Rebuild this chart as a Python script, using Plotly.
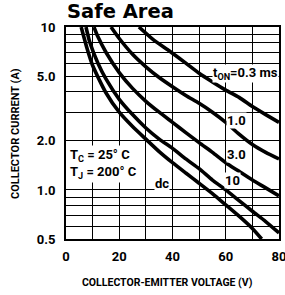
import numpy as np
import plotly.graph_objects as go

# ---- data ----
v_03 = [27.4, 33, 39, 45, 50, 55, 60, 65, 70, 75, 80]
i_03 = [10, 8.3, 7.1, 6.0, 5.2, 4.6, 4.1, 3.7, 3.25, 2.9, 2.6]

v_1 = [16.9, 20, 25, 30, 35, 40, 45, 50, 55, 60, 65, 70, 75, 80]
i_1 = [10, 8.5, 6.8, 5.7, 4.9, 4.3, 3.8, 3.4, 3.0, 2.6, 2.2, 1.9, 1.7, 1.55]

v_3 = [10.5, 12, 15, 20, 25, 30, 35, 40, 45, 50, 55, 60, 65, 70, 75, 80]
i_3 = [10, 8.7, 7.0, 5.25, 4.2, 3.5, 3.0, 2.6, 2.25, 1.95, 1.7, 1.47, 1.3, 1.15, 1.03, 0.92]

v_10 = [7.5, 9, 12, 15, 20, 25, 30, 35, 40, 45, 50, 55, 60, 65, 70, 75, 80]
i_10 = [10, 8.0, 6.0, 4.8, 3.6, 2.9, 2.4, 2.05, 1.8, 1.55, 1.35, 1.15, 1.0, 0.86, 0.74, 0.64, 0.545]

v_dc = [5.7, 8, 10, 15, 20, 25, 30, 35, 40, 45, 50, 55, 60, 65, 70, 73.5]
i_dc = [10, 7.3, 5.8, 3.95, 3.0, 2.45, 2.05, 1.72, 1.47, 1.27, 1.1, 0.95, 0.81, 0.69, 0.58, 0.5]

x_ticks = [0, 20, 40, 60, 80]
x_ticktext = ["0", "20", "40", "60", "80"]
x_grid = [10, 30, 50, 70]
y_ticks = [0.5, 1, 2, 5, 10]
y_ticktext = ["0.5", "1.0", "2.0", "5.0", "10"]
y_grid = [0.6, 0.7, 0.8, 0.9, 3, 4, 6, 7, 8, 9]

series = [(v_03, i_03), (v_1, i_1), (v_3, i_3), (v_10, i_10), (v_dc, i_dc)]

NARROW = "Roboto, Liberation Sans, sans-serif"
TICKF = dict(family="Roboto, Liberation Sans, sans-serif", size=13, color="black", weight="bold")

fig = go.Figure()
for vx, iy in series:
    fig.add_trace(go.Scatter(x=vx, y=iy, mode="lines",
                             line=dict(color="black", width=3.6, shape="spline", smoothing=0.6),
                             showlegend=False, hoverinfo="skip"))

fig.update_layout(
    width=285, height=295,
    margin=dict(l=66, r=6, t=27, b=56, autoexpand=False),
    paper_bgcolor="white", plot_bgcolor="white",
    title=dict(text="<b>Safe Area</b>", xref="container", yref="container",
               x=67/285, xanchor="left", y=1 - 11/295, yanchor="middle",
               pad=dict(l=0, r=0, t=0, b=0),
               font=dict(family="DejaVu Sans, sans-serif", size=19.5, color="black")),
)
GRID = dict(showgrid=True, gridcolor="black", gridwidth=1.4)
fig.update_xaxes(range=[0, 80], tickmode="array", tickvals=x_ticks, ticktext=x_ticktext,
                 automargin=False, ticklabelstandoff=4, ticklabeloverflow="allow",
                 minor=dict(tickmode="array", tickvals=x_grid, **GRID), **GRID,
                 showline=True, linecolor="black", linewidth=2, mirror=True,
                 ticks="", tickfont=TICKF, zeroline=False)
fig.update_yaxes(type="log", range=[np.log10(0.5), 1], tickmode="array",
                 tickvals=y_ticks, ticktext=y_ticktext,
                 automargin=False, ticklabelstandoff=6, ticklabeloverflow="allow",
                 minor=dict(tickmode="array", tickvals=y_grid, **GRID), **GRID,
                 showline=True, linecolor="black", linewidth=2, mirror=True,
                 ticks="", tickfont=TICKF, zeroline=False)

# axis titles
fig.add_annotation(text="COLLECTOR-EMITTER VOLTAGE (V)", xref="paper", yref="paper",
                   x=(167 - 66) / 213, y=0, yshift=-43, xanchor="center", yanchor="middle",
                   showarrow=False, font=dict(family=NARROW, size=10.5, color="black", weight="bold"))
fig.add_annotation(text="COLLECTOR CURRENT (A)", xref="paper", yref="paper",
                   x=0, xshift=15 - 66, y=(239 - 134) / 212, xanchor="center", yanchor="middle",
                   textangle=-90, showarrow=False,
                   font=dict(family=NARROW, size=11, color="black", weight="bold"))

LBL = dict(family=NARROW, size=13, color="black", weight="bold")
labels = [
    ("t<sub>ON</sub>=0.3 ms", 67.5, 5.2),
    ("1.0", 63.9, 2.65),
    ("3.0", 63.9, 1.66),
    ("10", 62.4, 1.15),
    ("dc", 36.1, 1.09),
]
for txt, xv, yv in labels:
    fig.add_annotation(text=txt, x=xv, y=np.log10(yv), showarrow=False,
                       bgcolor="white", font=LBL, borderpad=0)

fig.add_annotation(text="T<sub>C</sub> = 25° C<br>T<sub>J</sub> = 200° C",
                   x=0.6, y=np.log10(1.45), xanchor="left", yanchor="middle", align="left",
                   showarrow=False, bgcolor="white", borderpad=1,
                   font=dict(family=NARROW, size=13, color="black", weight="bold"))

fig.write_html("out.html", config={"displayModeBar": False},
               post_script="document.body.style.margin='0';")
